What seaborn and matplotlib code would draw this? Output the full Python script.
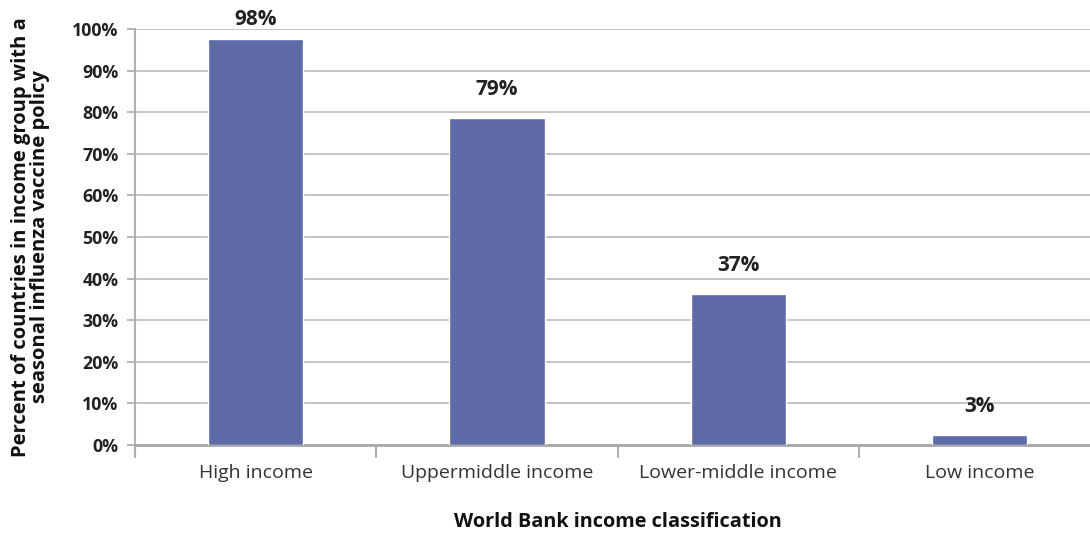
import matplotlib
matplotlib.use("Agg")
import matplotlib.pyplot as plt
import seaborn as sns
import pandas as pd
from matplotlib.ticker import FixedLocator, PercentFormatter

categories = ["High income", "Uppermiddle income", "Lower-middle income", "Low income"]
values = [97.7, 78.6, 36.3, 2.4]
value_labels = ["98%", "79%", "37%", "3%"]
y_ticks = [0, 10, 20, 30, 40, 50, 60, 70, 80, 90, 100]

sns.set_theme(style="white")
plt.rcParams["font.family"] = ["Open Sans", "DejaVu Sans"]

df = pd.DataFrame({"category": categories, "value": values})

fig = plt.figure(figsize=(10.9, 5.33), dpi=100)
ax = fig.add_axes([0.1239, 0.1651, 0.8855, 0.7805])

sns.barplot(data=df, x="category", y="value", color="#5e6ba6", saturation=1,
            width=0.395, ax=ax, zorder=3)

ax.set_ylim(0, 100)
ax.set_xlim(-0.5, len(categories) - 0.5)
ax.set_yticks(y_ticks)
ax.yaxis.set_major_formatter(PercentFormatter(decimals=0))
ax.grid(axis="y", color="#c0c0c0", linewidth=1.3, zorder=0)
ax.set_axisbelow(True)

# category boundary ticks and centred labels
ax.xaxis.set_major_locator(FixedLocator([i - 0.5 for i in range(len(categories) + 1)]))
ax.xaxis.set_minor_locator(FixedLocator(list(range(len(categories)))))
ax.set_xticklabels([""] * (len(categories) + 1))
ax.set_xticklabels(categories, minor=True)
ax.tick_params(axis="x", which="major", length=9, width=1.5, color="#b0b0b0", direction="out", bottom=True)
ax.tick_params(axis="x", which="minor", length=0, pad=14, labelsize=14, labelcolor="#333333")
ax.tick_params(axis="y", length=6, width=1.3, color="#b0b0b0", direction="out", left=True,
               labelsize=12.8, labelcolor="#222222", pad=6)
for lbl in ax.get_yticklabels():
    lbl.set_fontweight("bold")

for s in ["top", "right"]:
    ax.spines[s].set_visible(False)
ax.spines["left"].set_color("#b0b0b0")
ax.spines["left"].set_linewidth(1.5)
ax.spines["left"].set_bounds(-2.5, 100)
ax.spines["bottom"].set_color("#a8a8a8")
ax.spines["bottom"].set_linewidth(2)

# value labels above bars (closer to the bar when it nearly reaches the top)
for patch, lab, v in zip(ax.patches, value_labels, values):
    pad = 6 if v > 95 else 13
    ax.annotate(lab, xy=(patch.get_x() + patch.get_width() / 2, patch.get_height()),
                xytext=(0, pad), textcoords="offset points", ha="center", va="bottom",
                fontsize=15, fontweight="bold", color="#222222", annotation_clip=False)

ax.set_xlabel("World Bank income classification", fontsize=14.3, fontweight="bold",
              color="#111111", labelpad=21)
ax.set_ylabel("Percent of countries in income group with a\nseasonal influenza vaccine policy",
              fontsize=14.5, fontweight="bold", color="#111111", labelpad=16, linespacing=0.95)

fig.savefig("out.png", dpi=100)
